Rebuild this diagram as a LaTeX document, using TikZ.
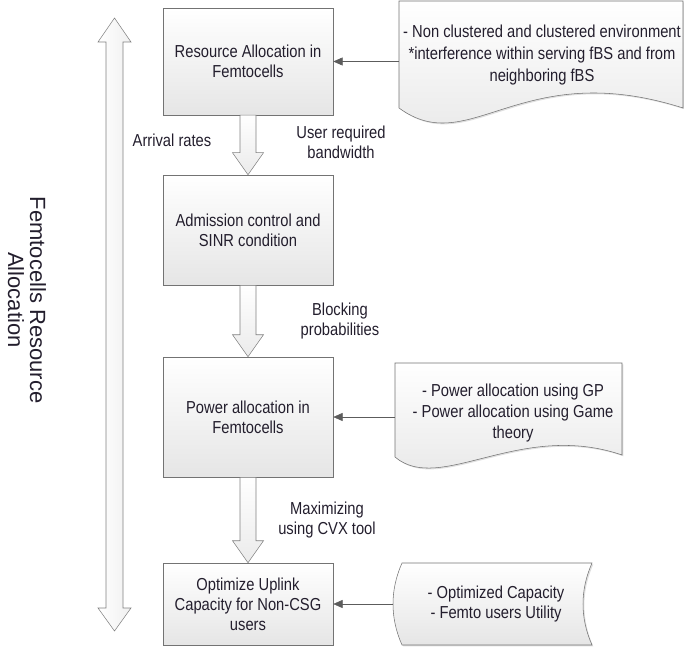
\documentclass[tikz,border=0pt]{standalone}
\usepackage{fontspec}
\setmainfont{Liberation Sans}[FakeStretch=0.85]
\newfontfamily\titlefont{Liberation Sans}
\usetikzlibrary{calc,arrows.meta,shadows}
\definecolor{edgegray}{RGB}{115,115,115}
\definecolor{txtgray}{RGB}{35,30,45}

\begin{document}
\begin{tikzpicture}[x=0.75pt,y=-0.75pt,
    box/.style={draw=edgegray,top color=white,bottom color=black!10,minimum width=127.5pt,
      inner sep=0pt,align=center,font=\fontsize{13}{15}\selectfont,text=txtgray,
      drop shadow={opacity=.25,shadow xshift=1pt,shadow yshift=-1pt}},
    paper/.style={draw=edgegray,top color=white,bottom color=black!10,
      drop shadow={opacity=.25,shadow xshift=1pt,shadow yshift=-1pt}},
    lbl/.style={align=center,font=\fontsize{13}{15}\selectfont,text=txtgray},
    link/.style={draw=edgegray!80!black,-{Triangle[length=7pt,width=6pt]}},
    fat/.style={draw=edgegray!90,top color=white,bottom color=black!8}]
    \useasboundingbox (0,0) rectangle (684,652);
    \node[box,minimum height=80pt] (res) at (248,61.5) {Resource Allocation in\\Femtocells};
    \node[box,minimum height=82.5pt] (adm) at (248,230) {Admission control and\\SINR condition};
    \node[box,minimum height=90pt] (pow) at (248,417) {Power allocation in\\Femtocells};
    \node[box,minimum height=61.5pt] (opt) at (248,604) {Optimize Uplink\\Capacity for Non-CSG\\users};
    \foreach \a/\b in {res/adm,adm/pow,pow/opt}
      \path[fat] ($(\a.south)+(-8,0)$) -- ($(\a.south)+(8,0)$) -- ($(\b.north)+(8,-22)$)
        -- ($(\b.north)+(15.5,-22)$) -- (\b.north) -- ($(\b.north)+(-15.5,-22)$)
        -- ($(\b.north)+(-8,-22)$) -- cycle;
    \coordinate (up) at (114.5,18);
    \coordinate (dn) at (114.5,631);
    \path[fat,left color=white,right color=black!6] (up) -- ($(up)+(16.5,24)$) -- ($(up)+(8.5,24)$)
      -- ($(dn)+(8.5,-23)$) -- ($(dn)+(16.5,-23)$) -- (dn) -- ($(dn)+(-16.5,-23)$)
      -- ($(dn)+(-8.5,-23)$) -- ($(up)+(-8.5,24)$) -- ($(up)+(-16.5,24)$) -- cycle;
    \node[rotate=-90,align=center,font=\titlefont\fontsize{16.5}{16.5}\selectfont,text=txtgray] (title)
      at (27,300) {Femtocells Resource\\Allocation};
    \node[lbl] (arr) at (172,140) {Arrival rates};
    \node[lbl] (bw) at (341,142) {User required\\bandwidth};
    \node[lbl] (blk) at (340,321) {Blocking\\probabilities};
    \node[lbl] (cvx) at (327,520) {Maximizing\\using CVX tool};
    \path[paper] (399,1) -- (683,1) -- (683,108) .. controls (520,56) and (470,160) .. (399,108) -- cycle;
    \node[lbl,font=\fontsize{13}{16.5}\selectfont] (env) at (542,55)
      {- Non clustered and clustered environment\\*interference within serving fBS and from\\neighboring fBS};
    \coordinate (envin) at (399,61.5);
    \draw[link] (envin) -- (res.east);
    \path[paper] (395,363) -- (622,363) -- (622,455) .. controls (520,420) and (440,495) .. (395,457) -- cycle;
    \node[lbl,font=\fontsize{13}{15.75}\selectfont] (gp) at (513,413)
      {- Power allocation using GP\\- Power allocation using Game\\theory};
    \coordinate (gpin) at (395,417);
    \draw[link] (gpin) -- (pow.east);
    \path[paper] (402,563) -- (592,563) .. controls (580,590) and (580,618) .. (592,645) -- (402,645)
      .. controls (390,618) and (390,590) .. (402,563) -- cycle;
    \node[lbl] (cap) at (496,604) {- Optimized Capacity\\- Femto users Utility};
    \coordinate (capin) at (393,604);
    \draw[link] (capin) -- (opt.east);
\end{tikzpicture}
\end{document}
